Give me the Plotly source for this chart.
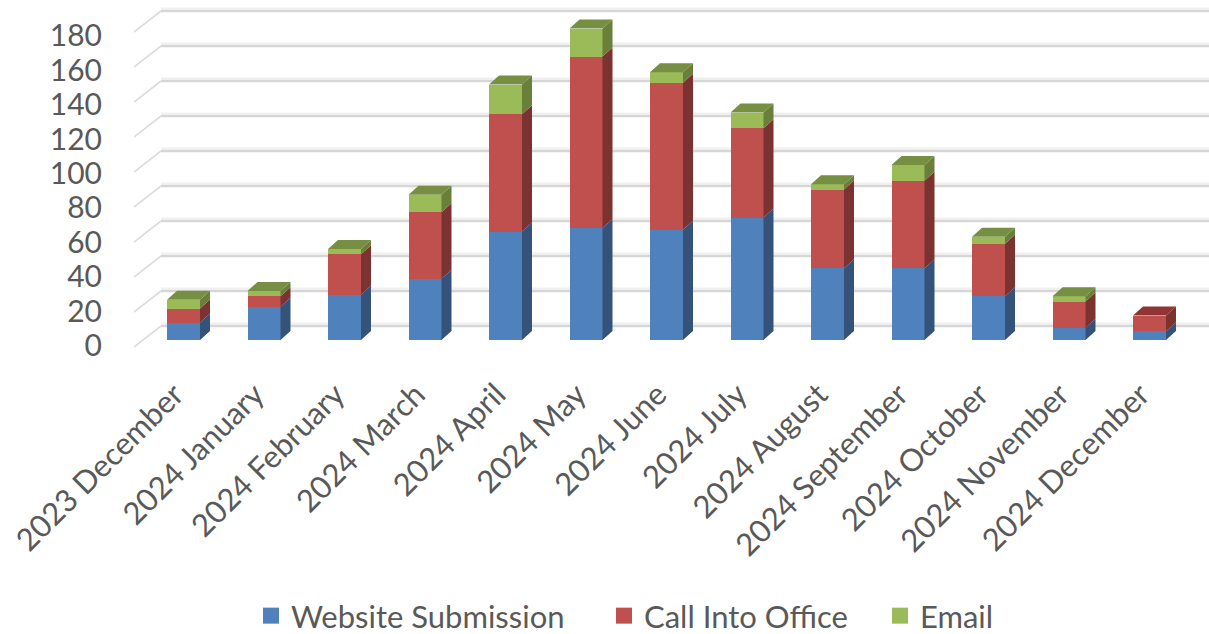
import plotly.graph_objects as go

categories = ["2023 December", "2024 January", "2024 February", "2024 March", "2024 April",
              "2024 May", "2024 June", "2024 July", "2024 August", "2024 September",
              "2024 October", "2024 November", "2024 December"]
website = [10, 19, 26, 35, 62, 64, 63, 70, 41, 41, 25, 7, 5]
call = [8, 6, 23, 38, 67, 98, 84, 51, 45, 50, 30, 15, 9]
email = [5, 3, 3, 10, 17, 16, 6, 9, 3, 9, 4, 3, 0]
y_ticks = [0, 20, 40, 60, 80, 100, 120, 140, 160, 180]

names = ["Website Submission", "Call Into Office", "Email"]
series = [website, call, email]
front = ["#4f81bd", "#c0504d", "#9bbb59"]
side = ["#34527a", "#7b3230", "#697f3a"]
top = ["#3f6796", "#8f3634", "#768f43"]
legend_widths = [308, 231, 100]

W, H = 1209, 634
PX_X, PX_Y = 80.5, 1.75
X0, Y0 = 183.5, 340.0
L, T_, B = 134, 0, 350
x_range = [(L - X0) / PX_X, (W - X0) / PX_X]
y_range = [(Y0 - B) / PX_Y, (Y0 - T_) / PX_Y]
BW = 0.41
DX, DY = 10 / PX_X, 9 / PX_Y
idx = list(range(len(categories)))

fig = go.Figure()
for s, name in enumerate(names):
    fig.add_bar(x=idx, y=series[s], name=name, width=BW, marker=dict(color=front[s], line_width=0),
                hoverinfo="skip", showlegend=False)

# Depth faces derived from the stacked values
for s in range(3):
    sx, sy, tx, ty = [], [], [], []
    for i in idx:
        lo = sum(series[k][i] for k in range(s))
        hi = lo + series[s][i]
        if series[s][i] == 0:
            continue
        r = i + BW / 2
        l = i - BW / 2
        sx += [r, r + DX, r + DX, r, r, None]
        sy += [lo, lo + DY, hi + DY, hi, lo, None]
        if all(series[k][i] == 0 for k in range(s + 1, 3)):
            tx += [l, l + DX, r + DX, r, l, None]
            ty += [hi, hi + DY, hi + DY, hi, hi, None]
    for px, py, c in ((sx, sy, side[s]), (tx, ty, top[s])):
        fig.add_scatter(x=px, y=py, mode="lines", fill="toself", fillcolor=c, line=dict(width=0),
                        showlegend=False, hoverinfo="skip")

# Legend keys: larger square swatches than a bar trace's legend icon
for s, name in enumerate(names):
    fig.add_scatter(x=[None], y=[None], mode="markers", name=name, legendwidth=legend_widths[s],
                    marker=dict(symbol="square", size=16, color=front[s]), hoverinfo="skip")

# Walls: gridlines run on the side wall then along the back wall
WALL_FRONT = -4.0
WALL_BACK = 8.0
x_back = x_range[0] + 27 / PX_X
shapes = []
for v in y_ticks:
    yb = v + WALL_BACK
    yf = v + WALL_FRONT
    shapes.append(dict(type="line", xref="x", yref="y", x0=x_back, x1=x_range[1], y0=yb + 1.4, y1=yb + 1.4,
                       line=dict(color="#f0f0f0", width=2), layer="below"))
    shapes.append(dict(type="line", xref="x", yref="y", x0=x_back, x1=x_range[1], y0=yb, y1=yb,
                       line=dict(color="#d6d6d6", width=2.5), layer="below"))
    shapes.append(dict(type="line", xref="x", yref="y", x0=x_range[0], x1=x_back, y0=yf, y1=yb,
                       line=dict(color="#dcdcdc", width=1.6), layer="below"))

font = "Lato, 'Liberation Sans', sans-serif"
fig.update_layout(
    width=W, height=H, autosize=False, barmode="stack", bargap=0.59,
    paper_bgcolor="white", plot_bgcolor="white",
    margin=dict(l=L, r=0, t=T_, b=H - B, autoexpand=False),
    shapes=shapes, hovermode=False,
    font=dict(family=font, color="#595959"),
    xaxis=dict(range=x_range, tickmode="array", tickvals=[i - 0.11 for i in idx], ticktext=categories, tickangle=-45,
               tickfont=dict(size=31, color="#595959"), showgrid=False, zeroline=False, showline=False,
               ticks="outside", ticklen=13, tickcolor="rgba(0,0,0,0)"),
    yaxis=dict(range=y_range, tickmode="array", tickvals=[v * 0.983 - 3.2 for v in y_ticks],
               ticktext=[str(v) for v in y_ticks], tickfont=dict(size=30, color="#595959"),
               showgrid=False, zeroline=False, showline=False,
               ticks="outside", ticklen=25, tickcolor="rgba(0,0,0,0)"),
    legend=dict(orientation="h", x=(251 - L) / (W - L), xanchor="left", y=(B - 616) / (B - T_), yanchor="middle",
                font=dict(size=31, color="#595959"), traceorder="normal", itemclick=False, itemdoubleclick=False,
                bgcolor="rgba(0,0,0,0)"),
)
fig.write_html("out.html", config=dict(displayModeBar=False),
               post_script="document.body.style.margin='0';document.documentElement.style.overflow='hidden';")
